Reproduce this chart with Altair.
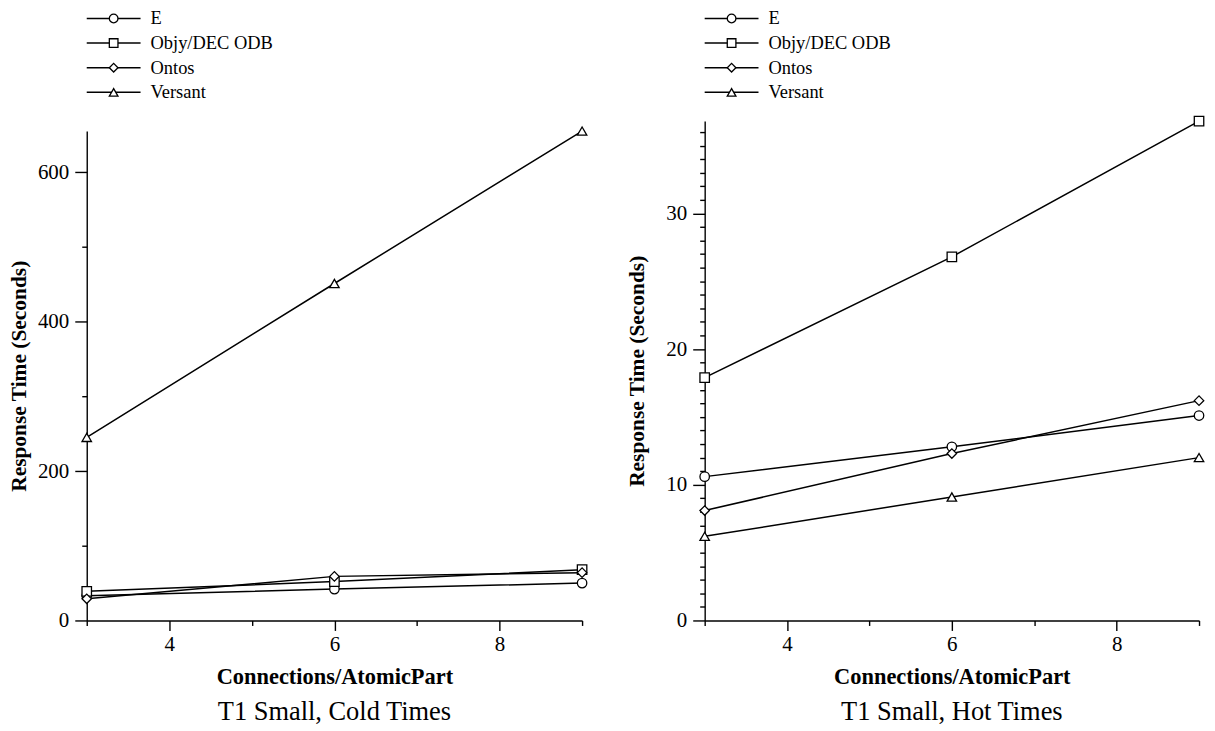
import altair as alt
import pandas as pd

FONT = "Liberation Serif"

series = ["E", "Objy/DEC ODB", "Ontos", "Versant"]
shapes = ["circle", "square", "diamond", "triangle-up"]
connections = [3, 6, 9]

# Cold times (seconds)
cold_e = [33, 42, 50]
cold_objy = [39, 52, 68]
cold_ontos = [29, 59, 64]
cold_versant = [245, 451, 655]

# Hot times (seconds)
hot_e = [10.6, 12.8, 15.1]
hot_objy = [17.9, 26.8, 36.8]
hot_ontos = [8.1, 12.3, 16.2]
hot_versant = [6.2, 9.1, 12.0]

x_ticks = [3, 4, 5, 6, 7, 8, 9]
cold_y_ticks = [0, 100, 200, 300, 400, 500, 600]
hot_y_ticks = [0, 1, 2, 3, 4, 5, 6, 7, 8, 9, 10, 11, 12, 13, 14, 15, 16, 17, 18,
               19, 20, 21, 22, 23, 24, 25, 26, 27, 28, 29, 30, 31, 32, 33, 34, 35, 36]


def frame(values):
    rows = []
    for name, ys in zip(series, values):
        for c, v in zip(connections, ys):
            rows.append({"series": name, "conn": c, "time": v})
    return pd.DataFrame(rows)


cold_df = frame([cold_e, cold_objy, cold_ontos, cold_versant])
hot_df = frame([hot_e, hot_objy, hot_ontos, hot_versant])

shape_scale = alt.Scale(domain=series, range=shapes)


def panel(df, ymax, yticks, ymajor, title, w, h):
    x = alt.X(
        "conn:Q",
        title="Connections/AtomicPart",
        scale=alt.Scale(domain=[3, 9], nice=False, zero=False),
        axis=alt.Axis(
            values=x_ticks,
            labelExpr="datum.value % 2 === 0 ? datum.label : ''",
            tickSize={"condition": {"test": "datum.value % 2 === 0", "value": 10}, "value": 5},
            labelOverlap=False,
            labelPadding=3,
            titlePadding=11,
            titleFontSize=22.5,
        ),
    )
    y = alt.Y(
        "time:Q",
        title="Response Time (Seconds)",
        scale=alt.Scale(domain=[0, ymax], nice=False, zero=True),
        axis=alt.Axis(
            values=yticks,
            labelExpr=f"datum.value % {ymajor} === 0 ? datum.label : ''",
            tickSize={"condition": {"test": f"datum.value % {ymajor} === 0", "value": 12}, "value": 5},
            labelOverlap=False,
            labelPadding=6,
            titleX=-67.5,
            titleBaseline="middle",
            titleFontSize=21.5,
        ),
    )
    base = alt.Chart(df)
    lines = base.mark_line(color="black", strokeWidth=1.5).encode(x=x, y=y, detail="series:N")
    pts = base.mark_point(
        filled=True, fill="white", stroke="black", strokeWidth=1.3, size=90, opacity=1
    ).encode(x=x, y=y, shape=alt.Shape("series:N", scale=shape_scale, legend=None))
    return (lines + pts).properties(
        width=w,
        height=h,
        title=alt.TitleParams(title, orient="bottom", font=FONT, fontSize=26.5,
                              fontWeight="normal", color="black", offset=11),
    )


def legend_chart():
    leg_df = pd.DataFrame({"series": series})
    ly = alt.Y("series:N", sort=series, axis=None,
               scale=alt.Scale(type="point", padding=0.3765))
    base = alt.Chart(leg_df).encode(y=ly)
    rule = base.mark_rule(color="black", strokeWidth=1.5).encode(x=alt.value(0), x2=alt.value(54))
    pts = base.mark_point(
        filled=True, fill="white", stroke="black", strokeWidth=1.3, size=75, opacity=1
    ).encode(x=alt.value(27), shape=alt.Shape("series:N", scale=shape_scale, legend=None))
    txt = base.mark_text(align="left", baseline="middle", font=FONT, fontSize=18.5,
                         color="black").encode(x=alt.value(64), text="series:N")
    return (rule + pts + txt).properties(width=300, height=92.7)


cold = panel(cold_df, 655, cold_y_ticks, 200, "T1 Small, Cold Times", 497, 491)
hot = panel(hot_df, 36.8, hot_y_ticks, 10, "T1 Small, Hot Times", 496, 501)

left = alt.vconcat(legend_chart(), cold, spacing=29.3, bounds="flush")
right = alt.vconcat(legend_chart(), hot, spacing=19.3, bounds="flush")

chart = (
    alt.hconcat(left, right, spacing=36)
    .properties(padding={"left": 0, "top": 0, "right": 0, "bottom": 0})
    .configure_view(stroke=None)
    .configure_axis(
        grid=False,
        domainColor="black",
        domainWidth=1.4,
        tickColor="black",
        tickWidth=1.4,
        labelColor="black",
        titleColor="black",
        labelFont=FONT,
        titleFont=FONT,
        labelFontSize=21,
        titleFontWeight="bold",
    )
)

chart.save("out.html", embed_options={"renderer": "svg", "actions": False})
